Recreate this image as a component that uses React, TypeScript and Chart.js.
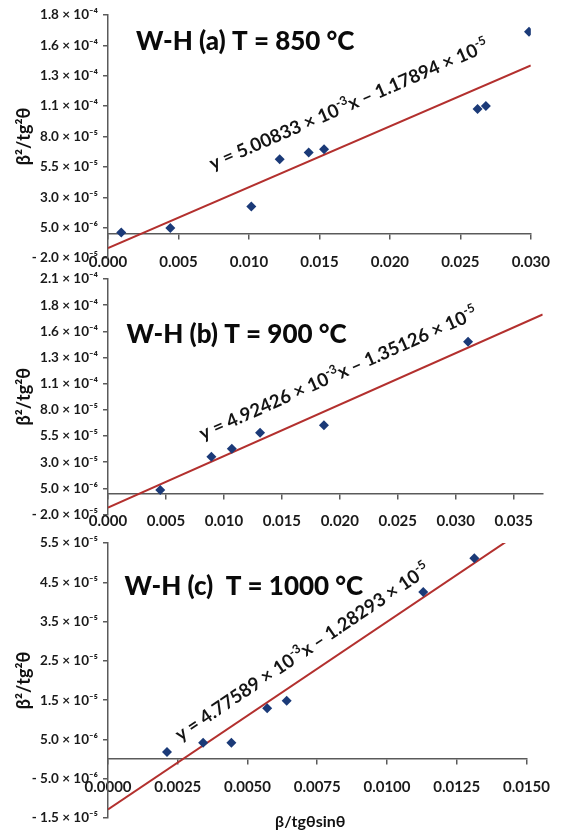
import React, { useEffect, useRef } from 'react';
import { Chart, registerables } from 'chart.js';

Chart.register(...registerables);

// ---------- Panel (a): T = 850 °C ----------
const xA = [0.00094, 0.00442, 0.01017, 0.01218, 0.01424, 0.01533, 0.02622, 0.02681, 0.02987];
const yA = [1.0e-6, 4.6e-6, 2.24e-5, 6.13e-5, 6.68e-5, 6.96e-5, 1.027e-4, 1.052e-4, 1.663e-4];
const slopeA = 5.00833e-3;
const interceptA = -1.17894e-5;
const fitRangeA = [0, 0.030];
const xTickValsA = [0, 0.005, 0.010, 0.015, 0.020, 0.025, 0.030];
const xTickLabelsA = ['0.000', '0.005', '0.010', '0.015', '0.020', '0.025', '0.030'];
const yTickValsA = [-2.0e-5, 5.0e-6, 3.0e-5, 5.5e-5, 8.0e-5, 1.05e-4, 1.3e-4, 1.55e-4, 1.8e-4];
const yTickLabelsA = ['- 2.0 × 10⁻⁵', '5.0 × 10⁻⁶', '3.0 × 10⁻⁵', '5.5 × 10⁻⁵', '8.0 × 10⁻⁵', '1.1 × 10⁻⁴', '1.3 × 10⁻⁴', '1.6 × 10⁻⁴', '1.8 × 10⁻⁴'];
const titleA = 'W-H (a) T = 850 °C';
const equationA = 'y = 5.00833 × 10^{-3}x – 1.17894 × 10^{-5}';

// ---------- Panel (b): T = 900 °C ----------
const xB = [0.00451, 0.00892, 0.01068, 0.01312, 0.01863, 0.03106];
const yB = [3.5e-6, 3.52e-5, 4.28e-5, 5.80e-5, 6.53e-5, 1.451e-4];
const slopeB = 4.92426e-3;
const interceptB = -1.35126e-5;
const fitRangeB = [0, 0.0375];
const xTickValsB = [0, 0.005, 0.010, 0.015, 0.020, 0.025, 0.030, 0.035];
const xTickLabelsB = ['0.000', '0.005', '0.010', '0.015', '0.020', '0.025', '0.030', '0.035'];
const yTickValsB = [-2.0e-5, 5.0e-6, 3.0e-5, 5.5e-5, 8.0e-5, 1.05e-4, 1.3e-4, 1.55e-4, 1.8e-4, 2.05e-4];
const yTickLabelsB = ['- 2.0 × 10⁻⁵', '5.0 × 10⁻⁶', '3.0 × 10⁻⁵', '5.5 × 10⁻⁵', '8.0 × 10⁻⁵', '1.1 × 10⁻⁴', '1.3 × 10⁻⁴', '1.6 × 10⁻⁴', '1.8 × 10⁻⁴', '2.1 × 10⁻⁴'];
const titleB = 'W-H (b) T = 900 °C';
const equationB = 'y = 4.92426 × 10^{-3}x – 1.35126 × 10^{-5}';

// ---------- Panel (c): T = 1000 °C ----------
const xC = [0.002115, 0.003409, 0.004423, 0.005706, 0.006406, 0.0113, 0.01313];
const yC = [1.78e-6, 4.16e-6, 4.16e-6, 1.292e-5, 1.487e-5, 4.254e-5, 5.115e-5];
const slopeC = 4.77589e-3;
const interceptC = -1.28293e-5;
const fitRangeC = [0, 0.015];
const xTickValsC = [0, 0.0025, 0.005, 0.0075, 0.010, 0.0125, 0.015];
const xTickLabelsC = ['0.0000', '0.0025', '0.0050', '0.0075', '0.0100', '0.0125', '0.0150'];
const yTickValsC = [-1.5e-5, -5.0e-6, 5.0e-6, 1.5e-5, 2.5e-5, 3.5e-5, 4.5e-5, 5.5e-5];
const yTickLabelsC = ['- 1.5 × 10⁻⁵', '- 5.0 × 10⁻⁶', '5.0 × 10⁻⁶', '1.5 × 10⁻⁵', '2.5 × 10⁻⁵', '3.5 × 10⁻⁵', '4.5 × 10⁻⁵', '5.5 × 10⁻⁵'];
const titleC = 'W-H (c)  T = 1000 °C';
const equationC = 'y = 4.77589 × 10^{-3}x – 1.28293 × 10^{-5}';

const yAxisTitle = 'β²/tg²θ';
const xAxisTitle = 'β/tgθsinθ';

// ---------- styling / layout ----------
const FAMILY = 'Lato, "Open Sans", "DejaVu Sans", sans-serif';
const NAVY = '#1b3a78';
const RED = '#b3302e';
const AXIS = '#5a5a5a';
const TEXT = '#1a1a1a';
const W = 564;
const H = 834;

const panels = [
  {
    xs: xA, ys: yA, slope: slopeA, intercept: interceptA, fitRange: fitRangeA,
    xTickVals: xTickValsA, xTickLabels: xTickLabelsA, yTickVals: yTickValsA, yTickLabels: yTickLabelsA,
    title: titleA, equation: equationA, xTitle: null,
    layout: { top: 15, bottom: H - 258, right: W - 531 },
    titlePos: { dx: 28, dy: 27 }, eq: { x: 0.00827, off: 30 },
  },
  {
    xs: xB, ys: yB, slope: slopeB, intercept: interceptB, fitRange: fitRangeB,
    xTickVals: xTickValsB, xTickLabels: xTickLabelsB, yTickVals: yTickValsB, yTickLabels: yTickLabelsB,
    title: titleB, equation: equationB, xTitle: null,
    layout: { top: 279, bottom: H - 514.5, right: W - 542.7 },
    titlePos: { dx: 18.5, dy: 56 }, eq: { x: 0.00899, off: 23 },
  },
  {
    xs: xC, ys: yC, slope: slopeC, intercept: interceptC, fitRange: fitRangeC,
    xTickVals: xTickValsC, xTickLabels: xTickLabelsC, yTickVals: yTickValsC, yTickLabels: yTickLabelsC,
    title: titleC, equation: equationC, xTitle: xAxisTitle,
    layout: { top: 543, bottom: H - 818, right: W - 537.5 },
    titlePos: { dx: 16.5, dy: 44 }, eq: { x: 0.00292, off: 16 },
  },
];

function parseRich(s: string) {
  const segs: { t: string; sup: boolean }[] = [];
  const re = /\^\{([^}]*)\}/g;
  let last = 0;
  let m: RegExpExecArray | null;
  while ((m = re.exec(s))) {
    if (m.index > last) segs.push({ t: s.slice(last, m.index), sup: false });
    segs.push({ t: m[1], sup: true });
    last = m.index + m[0].length;
  }
  if (last < s.length) segs.push({ t: s.slice(last), sup: false });
  return segs;
}

function drawRich(ctx: CanvasRenderingContext2D, text: string, x: number, y: number, size: number) {
  let cx = x;
  for (const s of parseRich(text)) {
    const fs = s.sup ? size * 0.66 : size;
    ctx.font = `bold ${fs}px ${FAMILY}`;
    ctx.fillText(s.t, cx, s.sup ? y - size * 0.42 : y);
    cx += ctx.measureText(s.t).width;
  }
}

function Panel({ p }: { p: any }) {
  const ref = useRef<HTMLCanvasElement | null>(null);
  useEffect(() => {
    if (!ref.current) return;
    const points = p.xs.map((x: number, i: number) => ({ x, y: p.ys[i] }));
    const fit = p.fitRange.map((x: number) => ({ x, y: p.slope * x + p.intercept }));

    const annot = {
      id: 'whAnnot',
      afterDatasetsDraw(chart: any) {
        const { ctx, chartArea } = chart;
        const xs = chart.scales.x;
        const ys = chart.scales.y;
        ctx.save();
        ctx.fillStyle = '#0a0a0a';
        ctx.textAlign = 'left';
        ctx.textBaseline = 'middle';
        ctx.font = `900 26px ${FAMILY}`;
        ctx.fillText(p.title, chartArea.left + p.titlePos.dx, chartArea.top + p.titlePos.dy);

        // equation along the fit line
        const x0 = p.eq.x;
        const x1 = x0 + 0.001;
        const px0 = xs.getPixelForValue(x0);
        const py0 = ys.getPixelForValue(p.slope * x0 + p.intercept);
        const px1 = xs.getPixelForValue(x1);
        const py1 = ys.getPixelForValue(p.slope * x1 + p.intercept);
        const ang = Math.atan2(py1 - py0, px1 - px0);
        ctx.translate(px0, py0);
        ctx.rotate(ang);
        ctx.textBaseline = 'alphabetic';
        ctx.fillStyle = '#141414';
        drawRich(ctx, p.equation, 0, -p.eq.off, 18.5);
        ctx.restore();

        if (p.xTitle) {
          ctx.save();
          ctx.fillStyle = '#111';
          ctx.font = `bold 16px ${FAMILY}`;
          ctx.textAlign = 'center';
          ctx.textBaseline = 'middle';
          ctx.fillText(p.xTitle, (chartArea.left + chartArea.right) / 2 - 7, chartArea.bottom + 4);
          ctx.restore();
        }
      },
    };

    const chart = new Chart(ref.current, {
      type: 'scatter',
      data: {
        datasets: [
          {
            data: points,
            pointStyle: 'rectRot',
            pointRadius: 5,
            backgroundColor: NAVY,
            borderColor: NAVY,
            borderWidth: 0,
            order: 0,
          },
          {
            data: fit,
            showLine: true,
            borderColor: RED,
            borderWidth: 2,
            pointRadius: 0,
            fill: false,
            order: 1,
          },
        ],
      },
      options: {
        animation: false,
        responsive: false,
        events: [],
        layout: { padding: { left: 8, top: p.layout.top, bottom: p.layout.bottom, right: p.layout.right } },
        plugins: { legend: { display: false }, tooltip: { enabled: false } },
        scales: {
          x: {
            type: 'linear',
            min: p.fitRange[0],
            max: p.fitRange[1],
            position: { y: 0 },
            afterBuildTicks: (s: any) => {
              s.ticks = p.xTickVals.map((v: number) => ({ value: v }));
            },
            ticks: {
              callback: (_v: any, i: number) => p.xTickLabels[i],
              autoSkip: false,
              maxRotation: 0,
              minRotation: 0,
              padding: 14,
              color: TEXT,
              font: { family: FAMILY, size: 15, weight: 'bold' },
            },
            grid: { drawOnChartArea: false, drawTicks: true, tickLength: 5, color: AXIS, lineWidth: 1.5 },
            border: { display: true, color: AXIS, width: 1.5 },
          },
          y: {
            type: 'linear',
            min: p.yTickVals[0],
            max: p.yTickVals[p.yTickVals.length - 1],
            afterBuildTicks: (s: any) => {
              s.ticks = p.yTickVals.map((v: number) => ({ value: v }));
            },
            afterFit: (s: any) => {
              s.width = 100;
            },
            ticks: {
              callback: (_v: any, i: number) => p.yTickLabels[i],
              padding: 5,
              color: TEXT,
              font: { family: FAMILY, size: 13.5, weight: 'bold' },
            },
            grid: { drawOnChartArea: false, drawTicks: true, tickLength: 5, color: AXIS, lineWidth: 1.5 },
            border: { display: true, color: AXIS, width: 1.5 },
            title: {
              display: true,
              text: yAxisTitle,
              color: '#111',
              font: { family: FAMILY, size: 18, weight: 'bold' },
              padding: { top: 5, bottom: 0 },
            },
          },
        },
      },
      plugins: [annot],
    } as any);
    return () => chart.destroy();
  }, [p]);
  return <canvas ref={ref} width={W} height={H} style={{ position: 'absolute', left: 0, top: 0 }} />;
}

export default function App() {
  return (
    <div style={{ position: 'fixed', left: 0, top: 0, width: W, height: H, background: '#fff' }}>
      {panels.map((p, i) => (
        <Panel key={i} p={p} />
      ))}
    </div>
  );
}
